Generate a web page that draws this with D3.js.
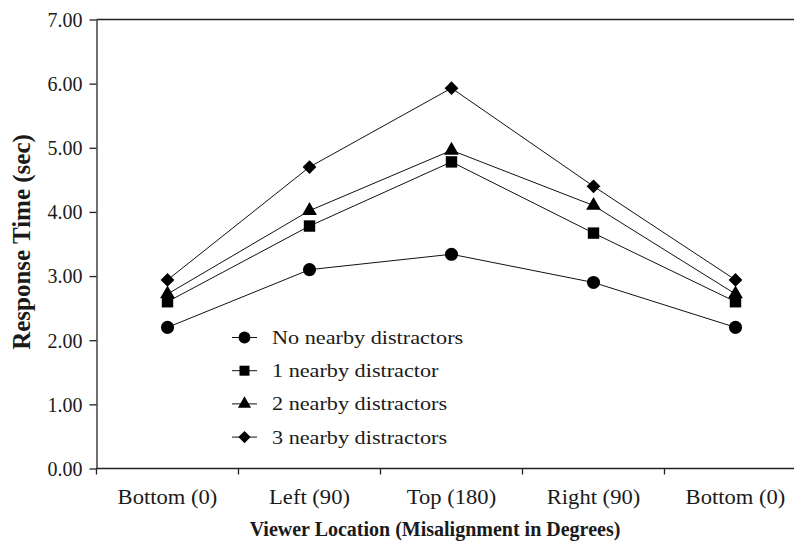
<!DOCTYPE html>
<html>
<head>
<meta charset="utf-8">
<script src="https://cdn.jsdelivr.net/npm/d3@7"></script>
<style>
	body { margin: 0; background: #fff; }
	text { font-family: "Liberation Serif", "Times New Roman", serif; fill: #1a1a1a; }
</style>
</head>
<body>
<div id="line-chart"></div>
<script>
// categories along the x axis
const locations = ["Bottom (0)", "Left (90)", "Top (180)", "Right (90)", "Bottom (0)"];

// response times (sec)
const noDistractors = [2.20, 3.10, 3.34, 2.90, 2.20];
const oneDistractor = [2.60, 3.78, 4.78, 3.67, 2.60];
const twoDistractors = [2.72, 4.02, 4.96, 4.10, 2.72];
const threeDistractors = [2.94, 4.70, 5.93, 4.40, 2.94];

const seriesNames = ["No nearby distractors", "1 nearby distractor", "2 nearby distractors", "3 nearby distractors"];
const yTicks = [0, 1, 2, 3, 4, 5, 6, 7];

function whenDocumentLoaded(action) {
	if (document.readyState === "loading") {
		document.addEventListener("DOMContentLoaded", action);
	} else {
		action();
	}
}

// diamond = square turned 45 degrees (d3's symbolDiamond is too tall)
const squareDiamond = {
	draw(context, size) {
		const r = Math.sqrt(size / 2);
		context.moveTo(0, -r);
		context.lineTo(r, 0);
		context.lineTo(0, r);
		context.lineTo(-r, 0);
		context.closePath();
	}
};

whenDocumentLoaded(() => {
	const W = 794, H = 546;
	const margin = {top: 19.5, left: 96.5};
	const plotH = 449; // 0 -> 7
	const bandW = 142;
	const axisColor = "#222";

	const svg = d3.select("#line-chart").append("svg")
		.attr("width", W).attr("height", H);

	const g = svg.append("g")
		.attr("transform", "translate(" + margin.left + "," + margin.top + ")");

	// index based band scale so the repeated "Bottom (0)" gets its own slot
	const x = d3.scaleBand()
		.domain(d3.range(locations.length))
		.range([0, bandW * locations.length]);

	const y = d3.scaleLinear().domain([0, 7]).range([plotH, 0]);

	// top line at 7.00
	g.append("line")
		.attr("x1", 0).attr("x2", bandW * locations.length)
		.attr("y1", 0).attr("y2", 0)
		.attr("stroke", axisColor).attr("stroke-width", 1.3);

	// Y axis
	const yAxis = g.append("g")
		.call(d3.axisLeft(y).tickValues(yTicks).tickFormat(d3.format(".2f")).tickSize(7).tickSizeOuter(0));
	yAxis.select(".domain").attr("stroke", axisColor).attr("stroke-width", 1.3);
	yAxis.selectAll(".tick line").attr("stroke", axisColor).attr("stroke-width", 1.3);
	yAxis.selectAll("text")
		.attr("font-size", 20).attr("font-family", "Liberation Serif")
		.attr("fill", "#1a1a1a").attr("x", -14).attr("dy", "0.34em");

	// X axis: ticks on band boundaries
	const xAxis = g.append("g").attr("transform", "translate(0," + plotH + ")");
	xAxis.append("line")
		.attr("x1", 0).attr("x2", bandW * locations.length)
		.attr("stroke", axisColor).attr("stroke-width", 1.3);
	xAxis.selectAll(".xtick")
		.data(d3.range(locations.length))
		.enter().append("line")
		.attr("x1", d => x(d)).attr("x2", d => x(d))
		.attr("y1", 0).attr("y2", 6)
		.attr("stroke", axisColor).attr("stroke-width", 1.3);
	xAxis.selectAll(".xlabel")
		.data(locations)
		.enter().append("text")
		.attr("transform", (d, i) => "translate(" + (x(i) + x.bandwidth() / 2) + ",35) scale(1.13,1)")
		.attr("text-anchor", "middle")
		.attr("font-size", 20)
		.text(d => d);

	// axis titles
	svg.append("text")
		.attr("x", 435).attr("y", 536)
		.attr("text-anchor", "middle")
		.attr("font-size", 20).attr("font-weight", "bold")
		.text("Viewer Location (Misalignment in Degrees)");

	svg.append("text")
		.attr("transform", "translate(30,242) rotate(-90)")
		.attr("text-anchor", "middle")
		.attr("font-size", 25).attr("font-weight", "bold")
		.text("Response Time (sec)");

	// series
	const series = [noDistractors, oneDistractor, twoDistractors, threeDistractors];
	const symbols = [
		d3.symbol().type(d3.symbolCircle).size(135),
		d3.symbol().type(d3.symbolSquare).size(130),
		d3.symbol().type(d3.symbolTriangle).size(95),
		d3.symbol().type(squareDiamond).size(95)
	];
	const legendSymbols = [
		d3.symbol().type(d3.symbolCircle).size(110),
		d3.symbol().type(d3.symbolSquare).size(100),
		d3.symbol().type(d3.symbolTriangle).size(75),
		d3.symbol().type(squareDiamond).size(75)
	];

	const line = d3.line()
		.x((d, i) => x(i) + x.bandwidth() / 2)
		.y(d => y(d));

	series.forEach(vals => {
		g.append("path")
			.datum(vals)
			.attr("fill", "none")
			.attr("stroke", "#111")
			.attr("stroke-width", 1)
			.attr("d", line);
	});

	series.forEach((vals, s) => {
		g.selectAll(".pt" + s)
			.data(vals)
			.enter().append("path")
			.attr("transform", (d, i) => "translate(" + (x(i) + x.bandwidth() / 2) + "," + y(d) + ")")
			.attr("d", symbols[s])
			.attr("fill", "#000");
	});

	// legend
	const legend = svg.append("g").attr("transform", "translate(232,337.5)");
	seriesNames.forEach((name, s) => {
		const row = legend.append("g").attr("transform", "translate(0," + (s * 33.2) + ")");
		row.append("line").attr("x1", 0).attr("x2", 25).attr("stroke", "#111").attr("stroke-width", 1);
		row.append("path")
			.attr("transform", "translate(12.5,0)")
			.attr("d", legendSymbols[s])
			.attr("fill", "#000");
		row.append("text")
			.attr("transform", "translate(40,6.5) scale(1.17,1)")
			.attr("font-size", 19)
			.text(name);
	});
});
</script>
</body>
</html>
